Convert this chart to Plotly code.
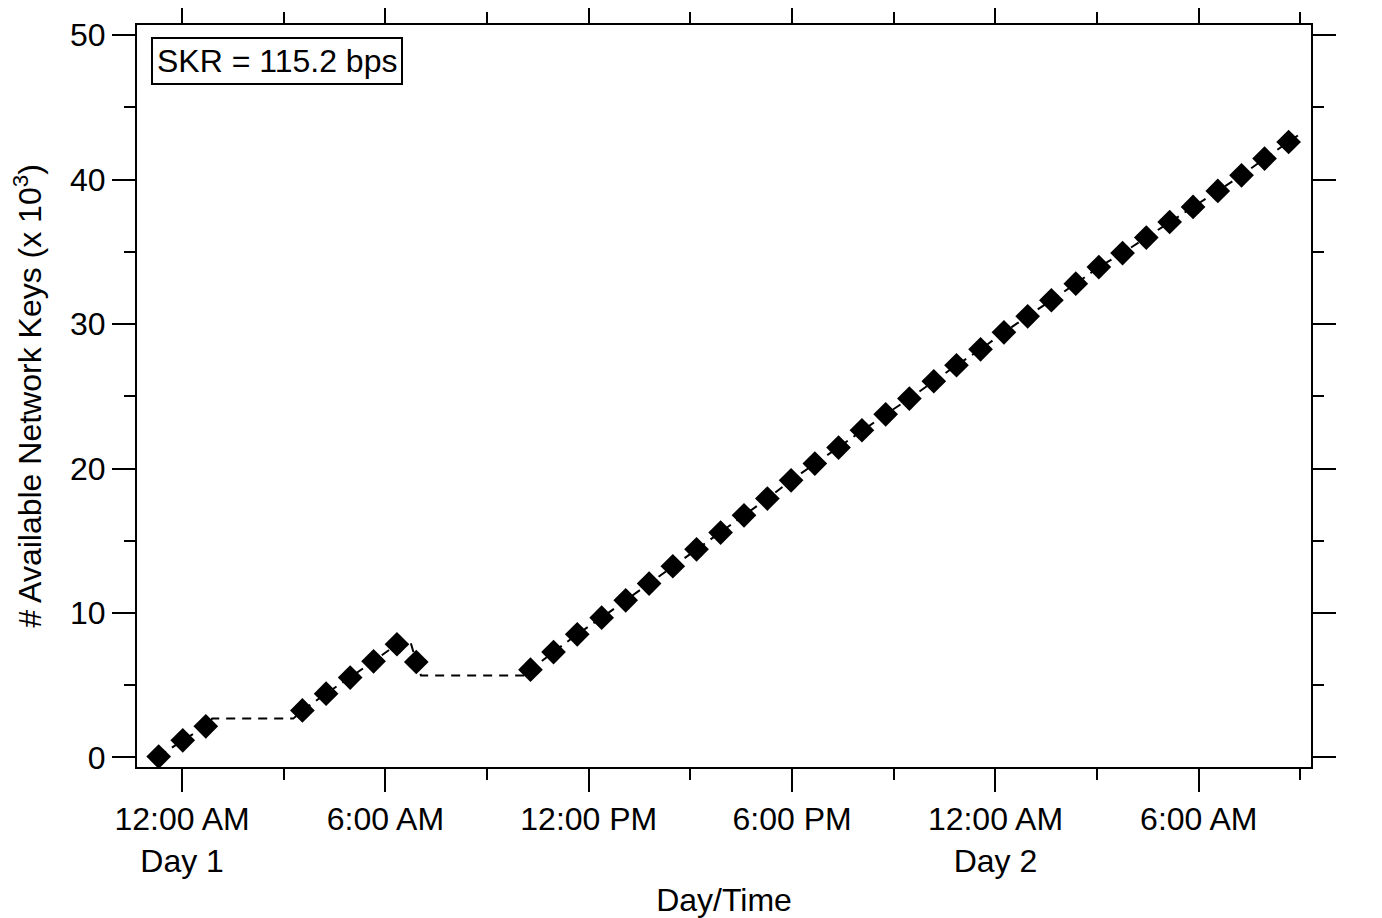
import plotly.graph_objects as go

# Sample times in hours from 12:00 AM Day 1, and available keys (x 10^3)
time_h = [-0.69, 0.02, 0.70, 3.55, 4.25, 4.96, 5.65, 6.34, 6.91,
          10.28, 10.96, 11.66, 12.38, 13.09, 13.78, 14.48, 15.18, 15.89, 16.58,
          17.27, 17.97, 18.67, 19.37, 20.06, 20.76, 21.46, 22.18, 22.85, 23.56,
          24.25, 24.95, 25.65, 26.37, 27.05, 27.75, 28.45, 29.14, 29.83, 30.56,
          31.26, 31.94, 32.65]
keys = [0.05, 1.18, 2.15, 3.25, 4.41, 5.52, 6.65, 7.83, 6.60,
        6.07, 7.29, 8.52, 9.67, 10.87, 12.03, 13.23, 14.40, 15.56, 16.76,
        17.92, 19.18, 20.34, 21.45, 22.65, 23.75, 24.84, 26.04, 27.15, 28.25,
        29.43, 30.54, 31.65, 32.80, 33.95, 34.92, 35.99, 37.07, 38.11, 39.22,
        40.30, 41.46, 42.61]

# Extra break points of the dashed key-pool line (flat periods)
corner_h = [0.89, 3.28, 6.76, 7.05, 10.10, 32.95]
corner_keys = [2.68, 2.68, 7.83, 5.66, 5.66, 43.10]

tick_vals = [0, 6, 12, 18, 24, 30]
tick_text = ["12:00 AM<br>Day 1", "6:00 AM", "12:00 PM", "6:00 PM",
             "12:00 AM<br>Day 2", "6:00 AM"]
y_ticks = [0, 10, 20, 30, 40, 50]

line_pts = sorted(list(zip(time_h, keys)) + list(zip(corner_h, corner_keys)))
line_h = [p[0] for p in line_pts]
line_k = [p[1] for p in line_pts]

FONT = "Liberation Sans, Arial, Helvetica, sans-serif"
FS = 32

fig = go.Figure()
fig.add_trace(go.Scatter(
    x=line_h, y=line_k, mode="lines",
    line=dict(color="black", width=2, dash="9px,7px"),
    hoverinfo="skip", showlegend=False))
fig.add_trace(go.Scatter(
    x=time_h, y=keys, mode="markers",
    marker=dict(symbol="diamond", size=19, color="black", line=dict(width=0)),
    showlegend=False))

axis_common = dict(
    showline=True, linecolor="black", linewidth=2, mirror="ticks",
    ticks="outside", ticklen=23, tickwidth=2, tickcolor="black",
    showgrid=False, zeroline=False, automargin=False,
    tickfont=dict(family=FONT, size=FS, color="black"),
)

fig.update_xaxes(
    range=[-1.33, 33.31], tickmode="array", tickvals=tick_vals, ticktext=tick_text,
    minor=dict(tickmode="array", tickvals=[3, 9, 15, 21, 27, 33], ticklen=11,
               tickwidth=2, tickcolor="black", ticks="outside"),
    title=dict(text="Day/Time", font=dict(family=FONT, size=FS, color="black"), standoff=12),
    **axis_common)
fig.update_yaxes(
    range=[-0.67, 50.71], tickmode="array", tickvals=y_ticks,
    minor=dict(tickmode="array", tickvals=[5, 15, 25, 35, 45], ticklen=11,
               tickwidth=2, tickcolor="black", ticks="outside"),
    title=dict(text="# Available Network Keys (x 10<sup>3</sup>)",
               font=dict(family=FONT, size=FS, color="black"), standoff=20),
    **axis_common)

fig.add_annotation(
    xref="paper", yref="paper", x=0.012, y=0.984, xanchor="left", yanchor="top",
    text="SKR = 115.2 bps", showarrow=False, align="left",
    font=dict(family=FONT, size=FS, color="black"),
    bordercolor="black", borderwidth=2, borderpad=4, bgcolor="white")

# the page body adds an 8px offset, so the figure is 8px smaller
fig.update_layout(
    width=1374, height=910,
    margin=dict(l=129, r=71, t=17, b=151, autoexpand=False),
    paper_bgcolor="white", plot_bgcolor="white",
    font=dict(family=FONT, color="black"),
)

fig.write_html("out.html")
